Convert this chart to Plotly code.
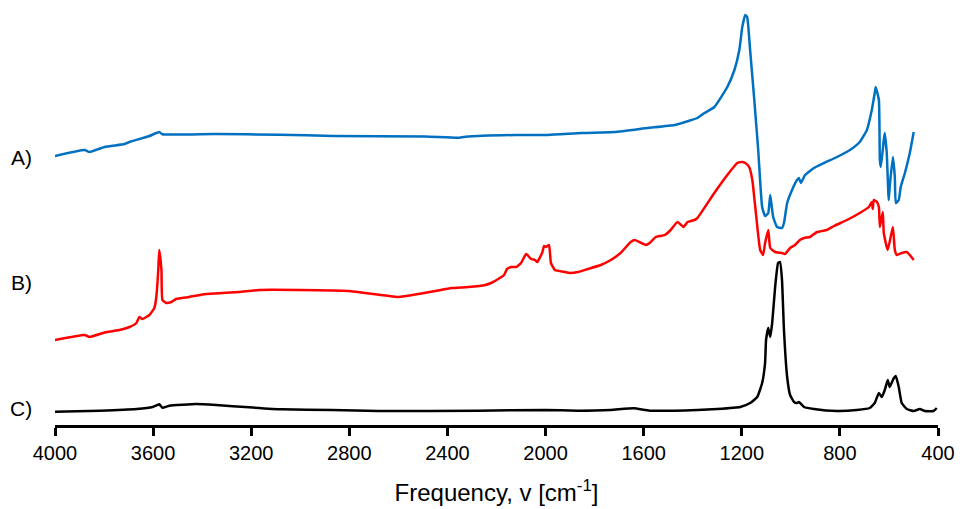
import plotly.graph_objects as go

# ---- Spectrum A (blue) ----
freq_a = [4000, 3879, 3859, 3798, 3716, 3696, 3656, 3615, 3575, 3562, 3350, 3085, 2865, 2490,
          2357, 2327, 2124, 1990, 1852, 1718, 1584, 1474, 1405, 1381, 1352, 1312, 1259, 1230,
          1210, 1198, 1186, 1178, 1166, 1149, 1133, 1117, 1105, 1092, 1084, 1072, 1056, 1036,
          1028, 1015, 995, 975, 967, 959, 942, 906, 865, 812, 759, 719, 690, 670, 658, 654,
          641, 637, 633, 621, 617, 609, 601, 597, 584, 576, 572, 560, 552, 535, 515, 499]
int_a = [269, 275, 273, 278, 281, 283, 286, 289, 293, 290.7, 291, 290.3, 289, 288.5,
         287.3, 288.3, 290, 290, 292, 293, 297, 300, 305, 307, 312, 318, 338, 355,
         375, 398, 410, 408, 375, 325, 275, 218, 209, 212, 230, 208, 198, 197,
         202, 222, 235, 245, 247, 242, 250, 257, 262, 268, 275, 283, 295, 315, 332, 338,
         325, 265, 258, 285, 292, 272, 225, 238, 268, 248, 222, 225, 238, 252, 272, 293]

# ---- Spectrum B (red) ----
freq_b = [4000, 3879, 3859, 3790, 3737, 3696, 3668, 3656, 3644, 3615, 3595, 3587, 3579, 3575,
          3566, 3562, 3546, 3526, 3506, 3453, 3384, 3319, 3250, 3168, 3006, 2803, 2600, 2518,
          2449, 2384, 2315, 2246, 2222, 2193, 2169, 2157, 2140, 2120, 2100, 2079, 2059, 2043,
          2034, 2014, 2006, 1998, 1986, 1978, 1962, 1921, 1901, 1868, 1828, 1775, 1734, 1694,
          1653, 1636, 1591, 1571, 1551, 1514, 1490, 1462, 1437, 1421, 1393, 1381, 1312, 1259,
          1218, 1198, 1186, 1170, 1157, 1145, 1125, 1113, 1105, 1092, 1084, 1064, 1036, 1024,
          1003, 983, 963, 946, 922, 893, 853, 824, 771, 719, 682, 670, 666, 662, 649, 641,
          637, 625, 621, 605, 584, 576, 568, 548, 527, 515, 499]
int_b = [85, 90, 88, 93, 95, 98, 102, 108, 106, 110, 117, 128, 155, 175,
         155, 125, 122, 123, 126, 128, 131, 132, 133, 135, 135, 134, 128, 131,
         134, 137, 138, 140, 142, 146, 150, 156, 158, 158, 162, 171, 166, 165,
         163, 172, 179, 178, 180, 162, 155, 153, 152, 153, 156, 160, 165, 172,
         183, 185, 180, 183, 188, 190, 195, 203, 198, 203, 205, 207, 232, 250,
         262, 263, 262, 258, 245, 218, 175, 170, 182, 195, 177, 173, 172, 171,
         177, 180, 185, 187, 188, 193, 195, 199, 205, 212, 218, 223, 216, 225, 223, 218,
         198, 213, 192, 175, 198, 175, 170, 172, 173, 170, 165]

# ---- Spectrum C (black) ----
freq_c = [4000, 3817, 3667, 3602, 3575, 3562, 3534, 3424, 3343, 3209, 3075, 2872, 2681, 2275,
          2003, 1869, 1735, 1640, 1575, 1381, 1300, 1206, 1166, 1137, 1117, 1105, 1101, 1092,
          1084, 1076, 1064, 1052, 1044, 1036, 1028, 1015, 1003, 987, 975, 967, 946, 906,
          812, 731, 678, 658, 641, 629, 617, 605, 597, 580, 572, 560, 548, 527, 499, 474,
          454, 418, 405]
int_c = [13.3, 14.3, 16, 18, 20.7, 17.3, 19.3, 21, 20, 17.7, 15.7, 15, 14, 14.3,
         15, 14.3, 15, 16.7, 14.3, 15, 16, 18, 22, 28, 42, 62, 85, 97,
         88, 102, 138, 162, 163, 145, 95, 48, 30, 23, 22, 23, 18, 16,
         14, 15, 17, 22, 32, 28, 35, 45, 38, 47, 49, 38, 22, 16, 14, 16,
         14, 14, 17]

labels = ["A)", "B)", "C)"]
label_pos = [268, 143, 17]
tick_vals = [4000, 3600, 3200, 2800, 2400, 2000, 1600, 1200, 800, 400]

FONT = "Arial, Liberation Sans, sans-serif"

fig = go.Figure()
for fx, iy, col in [(freq_a, int_a, "#0070C0"), (freq_b, int_b, "#FF0000"), (freq_c, int_c, "#000000")]:
    fig.add_trace(go.Scatter(x=fx, y=iy, mode="lines",
                             line=dict(color=col, width=2.5, shape="spline", smoothing=0.4),
                             showlegend=False, hoverinfo="skip"))

for lab, pos in zip(labels, label_pos):
    fig.add_annotation(text=lab, x=-0.024, xref="paper", y=pos, yref="y",
                       xanchor="right", yanchor="middle", showarrow=False,
                       font=dict(family=FONT, size=21, color="#000000"))

fig.update_layout(
    width=960, height=509,
    margin=dict(l=55, r=19, t=5, b=84),
    paper_bgcolor="white", plot_bgcolor="white",
    font=dict(family=FONT, color="#000000"),
    xaxis=dict(range=[4000, 400], tickvals=tick_vals, ticktext=[str(v) for v in tick_vals],
               showline=True, linecolor="#000000", linewidth=3,
               ticks="outside", ticklen=8, tickwidth=2.5, tickcolor="#000000",
               showgrid=False, zeroline=False,
               tickfont=dict(family=FONT, size=20, color="#000000"),
               title=dict(text="Frequency, v [cm<sup>-1</sup>]", standoff=22,
                          font=dict(family=FONT, size=24, color="#000000"))),
    yaxis=dict(range=[0, 420], visible=False),
)

fig.write_html("out.html")
